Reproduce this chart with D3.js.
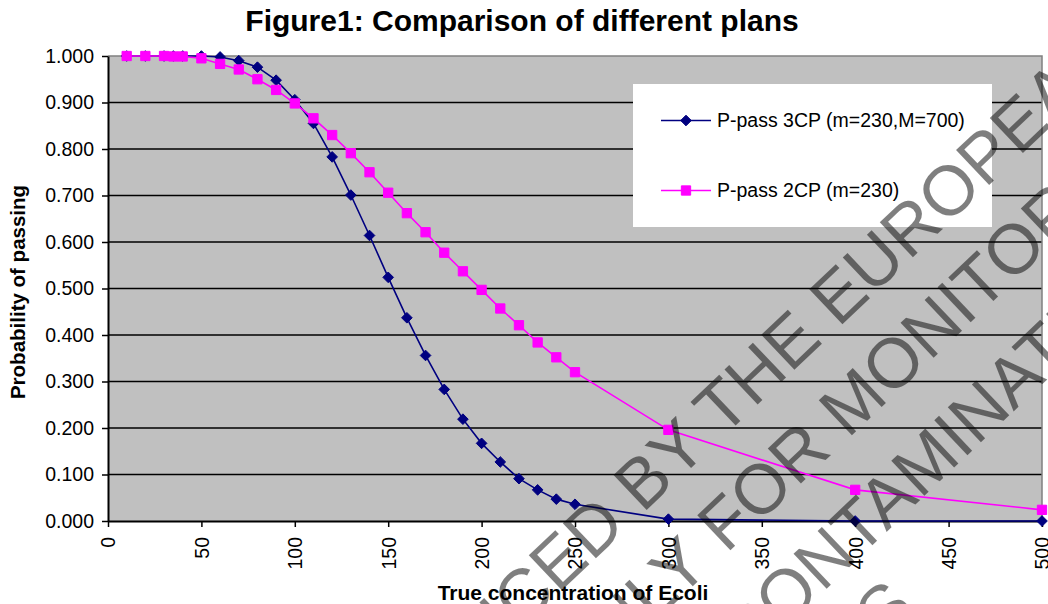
<!DOCTYPE html>
<html>
<head>
<meta charset="utf-8">
<script src="https://cdn.jsdelivr.net/npm/d3@7"></script>
<style>
  body { margin: 0; background: #fff; }
  svg { display: block; }
  text { font-family: "Liberation Sans", Arial, sans-serif; }
</style>
</head>
<body>
<svg id="chart" width="1048" height="604"></svg>
<script>
// True concentration of E. coli at which each plan was evaluated
const concentration = [10, 20, 30, 35, 40, 50, 60, 70, 80, 90, 100, 110, 120, 130, 140, 150,
  160, 170, 180, 190, 200, 210, 220, 230, 240, 250, 300, 400, 500];

// Probability of passing, three-class plan (m=230, M=700)
const pass3CP = [1.000, 1.000, 1.000, 1.000, 1.000, 1.000, 0.998, 0.990, 0.976, 0.948, 0.906,
  0.855, 0.783, 0.701, 0.614, 0.524, 0.437, 0.356, 0.283, 0.219, 0.167, 0.127, 0.091, 0.067,
  0.047, 0.036, 0.004, 0.000, 0.000];

// Probability of passing, two-class plan (m=230)
const pass2CP = [1.000, 1.000, 1.000, 0.999, 0.999, 0.995, 0.983, 0.971, 0.950, 0.927, 0.898,
  0.866, 0.830, 0.791, 0.750, 0.706, 0.662, 0.621, 0.577, 0.537, 0.497, 0.457, 0.421, 0.384,
  0.352, 0.320, 0.196, 0.067, 0.024];

const seriesNames = ["P-pass 3CP (m=230,M=700)", "P-pass 2CP (m=230)"];
const xTicks = [0, 50, 100, 150, 200, 250, 300, 350, 400, 450, 500];
const yTicks = [0, 0.1, 0.2, 0.3, 0.4, 0.5, 0.6, 0.7, 0.8, 0.9, 1.0];

const titleText = "Figure1: Comparison of different plans";
const xTitle = "True concentration of Ecoli";
const yTitle = "Probability of passing";

// Watermark lines stamped diagonally across the page: [words before the gap, words after it]
const stampLines = [
  ["ODUCED", "BY THE EUROPEAN"],
  ["ONLY", "FOR MONITORING"],
  ["CON", "TAMINATION"],
  ["PURPOSES", ""]
];

const svg = d3.select("#chart");
const plot = { left: 108, right: 1042, top: 56, bottom: 521 };

const x = d3.scaleLinear().domain([0, 500]).range([plot.left, plot.right]);
const y = d3.scaleLinear().domain([0, 1]).range([plot.bottom, plot.top]);

// Plot area
svg.append("rect")
  .attr("x", plot.left).attr("y", plot.top)
  .attr("width", plot.right - plot.left).attr("height", plot.bottom - plot.top)
  .attr("fill", "#c0c0c0");

// Horizontal gridlines
svg.append("g")
  .selectAll("line")
  .data(yTicks.filter(d => d > 0 && d < 1))
  .join("line")
  .attr("x1", plot.left).attr("x2", plot.right)
  .attr("y1", d => y(d)).attr("y2", d => y(d))
  .attr("stroke", "#000").attr("stroke-width", 1.5);

// Top and right border of the plot area
svg.append("path")
  .attr("d", `M${plot.left},${plot.top}H${plot.right}V${plot.bottom}`)
  .attr("fill", "none").attr("stroke", "#808080").attr("stroke-width", 1.5);

// Y axis
const yAxis = svg.append("g")
  .attr("transform", `translate(${plot.left},0)`)
  .call(d3.axisLeft(y).tickValues(yTicks).tickFormat(d3.format(".3f")).tickSizeInner(6).tickSizeOuter(0));
yAxis.select(".domain").attr("stroke", "#000").attr("stroke-width", 2);
yAxis.selectAll(".tick line").attr("stroke", "#000").attr("stroke-width", 1.5);
yAxis.selectAll(".tick text")
  .attr("x", -14).attr("fill", "#000")
  .style("font-size", "19.5px").style("font-family", "'Liberation Sans', Arial, sans-serif");

// X axis
const xAxis = svg.append("g")
  .attr("transform", `translate(0,${plot.bottom})`)
  .call(d3.axisBottom(x).tickValues(xTicks).tickFormat(d3.format("d")).tickSizeInner(6).tickSizeOuter(0));
xAxis.select(".domain").attr("stroke", "#000").attr("stroke-width", 2);
xAxis.selectAll(".tick line").attr("stroke", "#000").attr("stroke-width", 1.5);
xAxis.selectAll(".tick text")
  .attr("y", 0).attr("dy", "0.35em")
  .attr("transform", "translate(0,16) rotate(-90)")
  .attr("text-anchor", "end").attr("fill", "#000")
  .style("font-size", "19.5px").style("font-family", "'Liberation Sans', Arial, sans-serif");

// Series
const series = [
  { name: seriesNames[0], values: pass3CP, color: "#000080", marker: d3.symbolDiamond2, size: 72 },
  { name: seriesNames[1], values: pass2CP, color: "#ff00ff", marker: d3.symbolSquare2, size: 110 }
];

const line = d3.line().x(d => x(d[0])).y(d => y(d[1]));

series.forEach(s => {
  const pts = concentration.map((c, i) => [c, s.values[i]]);
  const g = svg.append("g");
  g.append("path")
    .attr("d", line(pts))
    .attr("fill", "none").attr("stroke", s.color).attr("stroke-width", 1.6);
  g.selectAll("path.m")
    .data(pts)
    .join("path")
    .attr("class", "m")
    .attr("transform", d => `translate(${x(d[0])},${y(d[1])})`)
    .attr("d", d3.symbol(s.marker, s.size))
    .attr("fill", s.color).attr("stroke", s.color).attr("stroke-width", 1);
});

// Legend
const legend = svg.append("g");
legend.append("rect")
  .attr("x", 633).attr("y", 84).attr("width", 359).attr("height", 143)
  .attr("fill", "#fff");
series.forEach((s, i) => {
  const ly = 120.5 + i * 70;
  legend.append("line")
    .attr("x1", 661).attr("x2", 711).attr("y1", ly).attr("y2", ly)
    .attr("stroke", s.color).attr("stroke-width", 1.6);
  legend.append("path")
    .attr("transform", `translate(686,${ly})`)
    .attr("d", d3.symbol(s.marker, s.size)())
    .attr("fill", s.color).attr("stroke", s.color).attr("stroke-width", 1);
  legend.append("text")
    .attr("x", 717).attr("y", ly).attr("dy", "0.35em")
    .style("font-size", "19.5px")
    .text(s.name);
});

// Titles
svg.append("text")
  .attr("x", 522).attr("y", 31)
  .attr("text-anchor", "middle")
  .style("font-size", "30px").style("font-weight", "bold")
  .text(titleText);

svg.append("text")
  .attr("x", 573).attr("y", 600)
  .attr("text-anchor", "middle")
  .style("font-size", "21px").style("font-weight", "bold")
  .text(xTitle);

svg.append("text")
  .attr("transform", "translate(25,292) rotate(-90)")
  .attr("text-anchor", "middle")
  .style("font-size", "20.5px").style("font-weight", "bold")
  .text(yTitle);

// Diagonal watermark; each line is drawn as two pieces meeting at a word gap
const stamp = svg.append("g")
  .attr("transform", "translate(642,480) rotate(-43.5)")
  .attr("fill", "#000").attr("fill-opacity", 0.5)
  .style("font-size", "70px");
const gap = 19.5; // width of one space at 70px
// [x where the second piece starts, baseline, width of gap before it]
const stampAnchors = [[-23, 25, gap], [10, 112, gap], [104, 206, 0], [110, 285, 0]];
stampLines.forEach((ln, i) => {
  const [ax, ay, g] = stampAnchors[i];
  if (ln[0]) stamp.append("text").attr("x", ax - g).attr("y", ay).attr("text-anchor", "end").text(ln[0]);
  if (ln[1]) stamp.append("text").attr("x", ax).attr("y", ay).attr("text-anchor", "start").text(ln[1]);
});
</script>
</body>
</html>
